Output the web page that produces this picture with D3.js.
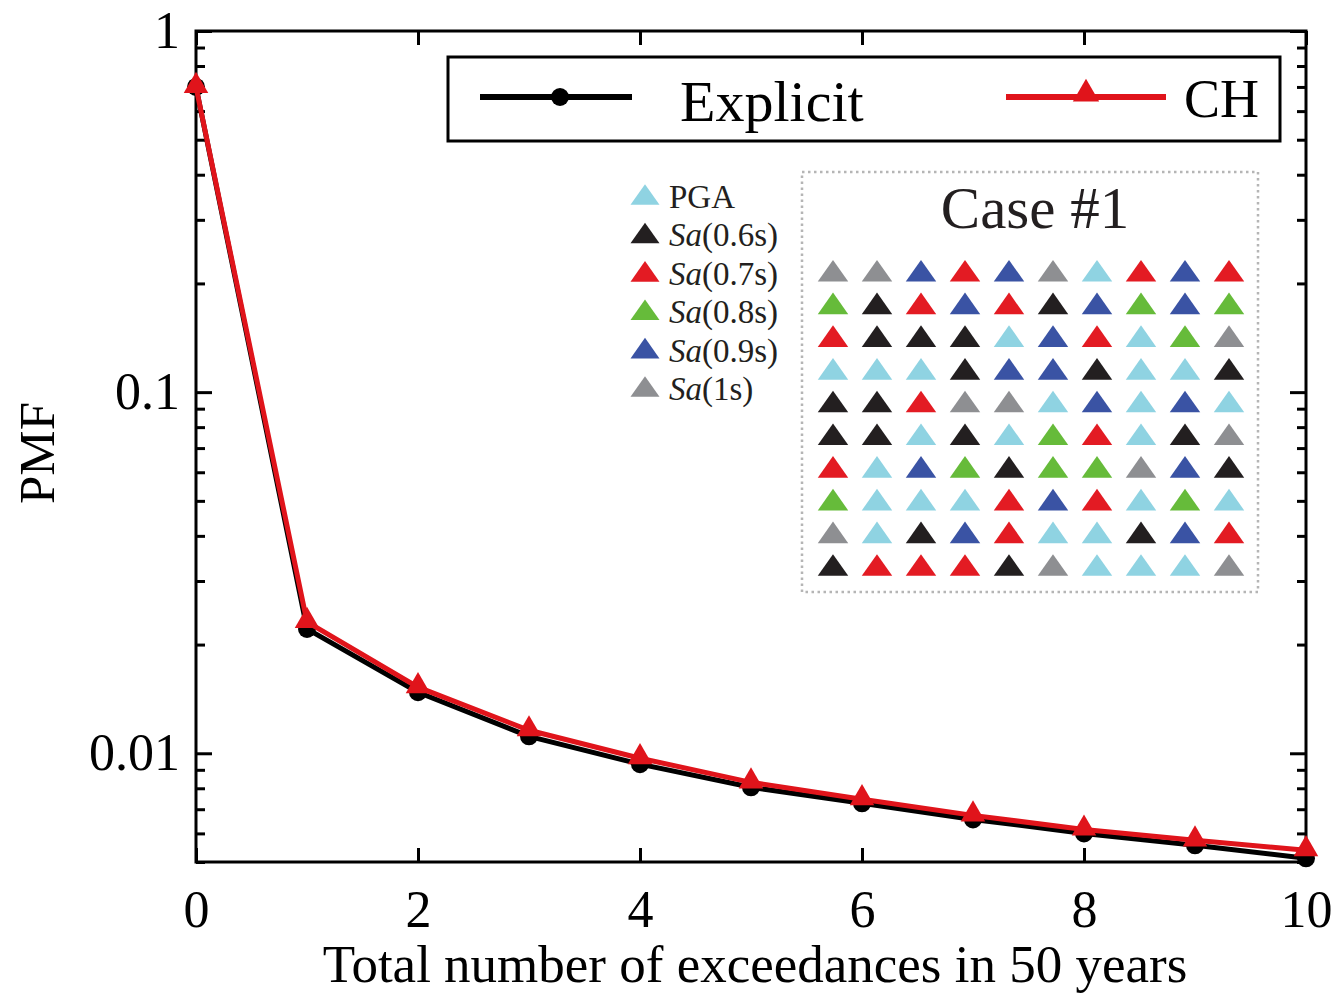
<!DOCTYPE html>
<html>
<head>
<meta charset="utf-8">
<script src="https://cdn.jsdelivr.net/npm/d3@7"></script>
<style>
  html, body { margin: 0; padding: 0; background: #fff; }
  svg { display: block; }
  text { font-family: "Liberation Serif", "Times New Roman", serif; }
</style>
</head>
<body>
<svg id="chart" width="1334" height="996"></svg>
<script>
// Exceedance counts and PMF of each method
const exceedances = [0, 1, 2, 3, 4, 5, 6, 7, 8, 9, 10];
const explicitPMF = [0.70, 0.0221, 0.01476, 0.01114, 0.00933, 0.00805, 0.00727, 0.00656, 0.00600, 0.00556, 0.00512];
const chPMF       = [0.70, 0.0231, 0.01524, 0.01158, 0.00969, 0.00831, 0.00746, 0.00673, 0.00615, 0.00574, 0.00539];

// Axis ticks
const xTicks = [0, 2, 4, 6, 8, 10];
const yMajorTicks = [1, 0.1, 0.01];
const yTickLabels = ["1", "0.1", "0.01"];

// Intensity measures in the inset legend
const imKeys = ["P", "K", "R", "G", "B", "Y"];
const imLabels = [["PGA", ""], ["Sa", "(0.6s)"], ["Sa", "(0.7s)"], ["Sa", "(0.8s)"], ["Sa", "(0.9s)"], ["Sa", "(1s)"]];
const imColors = ["#8fd3e2", "#231f20", "#e31b23", "#66bb3a", "#3a53a4", "#8e8f92"];

// Case #1 layout: intensity measure assigned to each site (10 x 10)
const caseGrid = [
  "YYBRBYPRBR",
  "GKRBRKBGBG",
  "RKKKPBRPGY",
  "PPPKBBKPPK",
  "KKRYYPBPBP",
  "KKPKPGRPKY",
  "RPBGKGGYBK",
  "GPPPRBRPGP",
  "YPKBRPPKBR",
  "KRRRKYPPPY"
];

const svg = d3.select("#chart");
const m = { left: 196, right: 1306, top: 31, bottom: 862 };

const x = d3.scaleLinear().domain([0, 10]).range([m.left, m.right]);
const y = d3.scaleLog().domain([0.005, 1]).range([m.bottom, m.top]);

// minor ticks for the log axis
const yMinorTicks = [];
[0.001, 0.01, 0.1].forEach(d => {
  for (let k = 2; k <= 9; k++) {
    const v = +(d * k).toPrecision(3);
    if (v >= 0.005 && v < 1) yMinorTicks.push(v);
  }
});

const axisFont = 52;

function styleAxis(g) {
  g.select(".domain").remove();
  g.selectAll(".tick line").attr("stroke", "#000").attr("stroke-width", 3);
  g.selectAll(".tick text").attr("font-size", axisFont).attr("fill", "#000")
    .style("font-family", "'Liberation Serif', serif");
}

// bottom axis with labels
svg.append("g")
  .attr("transform", `translate(0,${m.bottom})`)
  .call(d3.axisBottom(x).tickValues(xTicks).tickSizeInner(-14).tickSizeOuter(0).tickPadding(28).tickFormat(d3.format("d")))
  .call(styleAxis);
// top axis ticks
svg.append("g")
  .attr("transform", `translate(0,${m.top})`)
  .call(d3.axisTop(x).tickValues(xTicks).tickSizeInner(-14).tickSizeOuter(0).tickFormat(""))
  .call(styleAxis);
// left axis major + labels
svg.append("g")
  .attr("transform", `translate(${m.left},0)`)
  .call(d3.axisLeft(y).tickValues(yMajorTicks).tickSizeInner(-16).tickSizeOuter(0).tickPadding(16)
    .tickFormat((d, i) => yTickLabels[i]))
  .call(styleAxis);
svg.append("g")
  .attr("transform", `translate(${m.left},0)`)
  .call(d3.axisLeft(y).tickValues(yMinorTicks).tickSizeInner(-9).tickSizeOuter(0).tickFormat(""))
  .call(styleAxis);
// right axis ticks
svg.append("g")
  .attr("transform", `translate(${m.right},0)`)
  .call(d3.axisRight(y).tickValues(yMajorTicks).tickSizeInner(-16).tickSizeOuter(0).tickFormat(""))
  .call(styleAxis);
svg.append("g")
  .attr("transform", `translate(${m.right},0)`)
  .call(d3.axisRight(y).tickValues(yMinorTicks).tickSizeInner(-9).tickSizeOuter(0).tickFormat(""))
  .call(styleAxis);

// plot frame
svg.append("rect")
  .attr("x", m.left).attr("y", m.top)
  .attr("width", m.right - m.left).attr("height", m.bottom - m.top)
  .attr("fill", "none").attr("stroke", "#000").attr("stroke-width", 3);

// axis titles
svg.append("text")
  .attr("x", 755).attr("y", 982)
  .attr("text-anchor", "middle").attr("font-size", 53)
  .text("Total number of exceedances in 50 years");
svg.append("text")
  .attr("transform", `translate(54,453) rotate(-90)`)
  .attr("text-anchor", "middle").attr("font-size", 51)
  .text("PMF");

// inset: legend of intensity measures and Case #1 grid
const inset = svg.append("g");
inset.append("rect")
  .attr("x", 802).attr("y", 172).attr("width", 456).attr("height", 420)
  .attr("fill", "none").attr("stroke", "#b5b5b5").attr("stroke-width", 2.5)
  .attr("stroke-dasharray", "2.5,3.5");
inset.append("text")
  .attr("x", 1035).attr("y", 228).attr("text-anchor", "middle")
  .attr("font-size", 59).attr("fill", "#231f20").text("Case #1");

const tri = d3.symbol().type(d3.symbolTriangle);
const colorOf = d3.scaleOrdinal().domain(imKeys).range(imColors);

const colBand = d3.scaleBand().domain(d3.range(10)).range([811, 1251]).padding(0);
const rowBand = d3.scaleBand().domain(d3.range(10)).range([256, 583]).padding(0);

const cells = [];
caseGrid.forEach((row, r) => row.split("").forEach((k, c) => cells.push({ r, c, k })));
inset.selectAll("path.cell").data(cells).join("path")
  .attr("class", "cell")
  .attr("d", tri.size(320)())
  .attr("transform", d => `translate(${colBand(d.c) + colBand.bandwidth() / 2},${rowBand(d.r) + rowBand.bandwidth() / 2 + 2}) scale(1.12,0.92)`)
  .attr("fill", d => colorOf(d.k));

const legRow = d3.scalePoint().domain(d3.range(6)).range([197, 389]);
const leg = inset.selectAll("g.im").data(imKeys).join("g")
  .attr("class", "im")
  .attr("transform", (d, i) => `translate(645,${legRow(i)})`);
leg.append("path")
  .attr("d", tri.size(290)())
  .attr("transform", "translate(0,1) scale(1.12,0.92)")
  .attr("fill", d => colorOf(d));
leg.append("text")
  .attr("x", 24).attr("y", 11)
  .attr("font-size", 33).attr("fill", "#231f20")
  .each(function (d, i) {
    const t = d3.select(this);
    const [a, b] = imLabels[i];
    if (b === "") { t.text(a); }
    else {
      t.append("tspan").attr("font-style", "italic").text(a);
      t.append("tspan").text(b);
    }
  });

// data lines
const line = d3.line().x((d, i) => x(exceedances[i])).y(d => y(d));

svg.append("path").datum(explicitPMF)
  .attr("d", line).attr("fill", "none").attr("stroke", "#000").attr("stroke-width", 5);
svg.selectAll("circle.explicit").data(explicitPMF).join("circle")
  .attr("class", "explicit")
  .attr("cx", (d, i) => x(exceedances[i])).attr("cy", d => y(d))
  .attr("r", 9).attr("fill", "#000");

svg.append("path").datum(chPMF)
  .attr("d", line).attr("fill", "none").attr("stroke", "#e0141b").attr("stroke-width", 5);
svg.selectAll("path.ch").data(chPMF).join("path")
  .attr("class", "ch")
  .attr("d", tri.size(260)())
  .attr("transform", (d, i) => `translate(${x(exceedances[i])},${y(d) - 1})`)
  .attr("fill", "#e0141b");

// series legend
const lg = svg.append("g");
lg.append("rect").attr("x", 448).attr("y", 57).attr("width", 832).attr("height", 84)
  .attr("fill", "#fff").attr("stroke", "#000").attr("stroke-width", 3);
lg.append("line").attr("x1", 480).attr("x2", 632).attr("y1", 97).attr("y2", 97)
  .attr("stroke", "#000").attr("stroke-width", 6);
lg.append("circle").attr("cx", 560).attr("cy", 97).attr("r", 9).attr("fill", "#000");
lg.append("text").attr("x", 680).attr("y", 121).attr("font-size", 58).text("Explicit");
lg.append("line").attr("x1", 1006).attr("x2", 1166).attr("y1", 97).attr("y2", 97)
  .attr("stroke", "#e0141b").attr("stroke-width", 6);
lg.append("path").attr("d", tri.size(300)())
  .attr("transform", "translate(1086,94)").attr("fill", "#e0141b");
lg.append("text").attr("x", 1184).attr("y", 117).attr("font-size", 54).text("CH");
</script>
</body>
</html>
